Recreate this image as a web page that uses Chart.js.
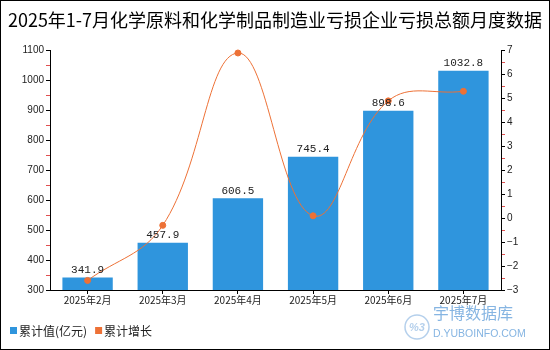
<!DOCTYPE html>
<html>
<head>
<meta charset="utf-8">
<script src="https://cdn.jsdelivr.net/npm/chart.js@4"></script>
<style>
  html, body { margin: 0; padding: 0; background: #fff; }
  #box { width: 550px; height: 350px; }
</style>
</head>
<body>
<div id="box"><canvas id="chartCanvas" width="550" height="350"></canvas></div>
<script>
// 数据
const months = ["2025年2月", "2025年3月", "2025年4月", "2025年5月", "2025年6月", "2025年7月"];
const totalValues = [341.9, 457.9, 606.5, 745.4, 898.6, 1032.8];
const growthValues = [-2.6, -0.3, 6.9, 0.1, 4.9, 5.3];
const titleText = "2025年1-7月化学原料和化学制品制造业亏损企业亏损总额月度数据";
const legendNames = ["累计值(亿元)", "累计增长"];

const barColor = "#2f95dd";
const lineColor = "#ed7136";
const cjkFont = "'Noto Sans CJK SC', 'Liberation Sans', sans-serif";

// Etiquetas sobre las barras + leyenda + marca de agua + borde
const extrasPlugin = {
    id: "extras",
    afterDatasetsDraw(chart) {
        const ctx = chart.ctx;
        const meta = chart.getDatasetMeta(1);
        ctx.save();
        ctx.font = "11px 'Liberation Mono', monospace";
        ctx.fillStyle = "#222";
        ctx.textAlign = "center";
        ctx.textBaseline = "bottom";
        meta.data.forEach((bar, i) => {
            ctx.fillText(totalValues[i].toFixed(1), bar.x, bar.y - 2);
        });
        ctx.restore();
    },
    afterDraw(chart) {
        const ctx = chart.ctx;
        ctx.save();

        // leyenda
        ctx.font = "12px " + cjkFont;
        ctx.textBaseline = "middle";
        ctx.textAlign = "left";
        let x = 10;
        const y = 331;
        [barColor, lineColor].forEach((c, i) => {
            ctx.fillStyle = c;
            ctx.fillRect(x, y - 4, 7, 7);
            ctx.fillStyle = "#222";
            ctx.fillText(legendNames[i], x + 9, y);
            x += 9 + ctx.measureText(legendNames[i]).width + 8;
        });

        // marca de agua
        ctx.strokeStyle = "#b5d0ec";
        ctx.fillStyle = "#b5d0ec";
        ctx.lineWidth = 1.5;
        ctx.beginPath();
        ctx.arc(417, 327, 12, 0, Math.PI * 2);
        ctx.stroke();
        ctx.font = "italic bold 11px 'Liberation Sans', sans-serif";
        ctx.textAlign = "center";
        ctx.fillText("%3", 417, 328);
        ctx.fillStyle = "#86b5e2";
        ctx.textAlign = "left";
        ctx.font = "16px " + cjkFont;
        ctx.fillText("宇博数据库", 433, 313);
        ctx.font = "10.5px 'Liberation Sans', sans-serif";
        ctx.fillText("D.YUBOINFO.COM", 433, 334);

        // borde
        ctx.strokeStyle = "#000";
        ctx.lineWidth = 1;
        ctx.strokeRect(0.5, 0.5, 549, 349);
        ctx.restore();
    }
};

function fmtMinus(v) {
    return v < 0 ? "\u2212" + Math.abs(v) : String(v);
}

new Chart(document.getElementById("chartCanvas"), {
    data: {
        labels: months,
        datasets: [
            {
                type: "line",
                label: legendNames[1],
                data: growthValues,
                yAxisID: "y1",
                borderColor: lineColor,
                backgroundColor: lineColor,
                borderWidth: 1,
                tension: 0.4,
                pointRadius: 3,
                pointHoverRadius: 3,
                clip: false,
                order: 0
            },
            {
                type: "bar",
                label: legendNames[0],
                data: totalValues,
                yAxisID: "y",
                backgroundColor: barColor,
                categoryPercentage: 0.67,
                barPercentage: 1,
                order: 1
            }
        ]
    },
    plugins: [extrasPlugin],
    options: {
        responsive: false,
        animation: false,
        layout: { padding: { left: 0, right: 0, top: 0, bottom: 40 } },
        plugins: {
            legend: { display: false },
            tooltip: { enabled: false },
            title: {
                display: true,
                text: titleText,
                color: "#000",
                font: { size: 18, family: cjkFont, weight: "normal" },
                padding: { top: 9, bottom: 20 }
            }
        },
        scales: {
            x: {
                offset: true,
                grid: { drawOnChartArea: false, offset: false, tickLength: 4, tickColor: "#000" },
                border: { color: "#000" },
                ticks: { color: "#222", font: { size: 10, family: cjkFont }, padding: 0, maxRotation: 0 },
                afterFit(scale) { scale.height = 20; }
            },
            y: {
                position: "left",
                min: 300,
                max: 1100,
                grid: {
                    drawOnChartArea: false,
                    tickLength: 4,
                    tickColor: (c) => (c.tick && c.tick.value % 100 === 0 ? "#000" : "#e05050")
                },
                border: { color: "#000" },
                ticks: {
                    stepSize: 50,
                    autoSkip: false,
                    color: "#222",
                    font: { size: 10, family: "'Liberation Sans', sans-serif" },
                    padding: 2,
                    callback: (v) => (v % 100 === 0 ? v : "")
                },
                afterFit(scale) { scale.width = 50; }
            },
            y1: {
                position: "right",
                min: -3,
                max: 7,
                grid: {
                    drawOnChartArea: false,
                    tickLength: 4,
                    tickColor: (c) => (c.tick && Number.isInteger(c.tick.value) ? "#000" : "#e05050")
                },
                border: { color: "#000" },
                ticks: {
                    stepSize: 0.5,
                    autoSkip: false,
                    color: "#222",
                    font: { size: 10, family: "'Liberation Sans', sans-serif" },
                    padding: 2,
                    callback: (v) => (Number.isInteger(v) ? fmtMinus(v) : "")
                },
                afterFit(scale) { scale.width = 49; }
            }
        }
    }
});
</script>
</body>
</html>
